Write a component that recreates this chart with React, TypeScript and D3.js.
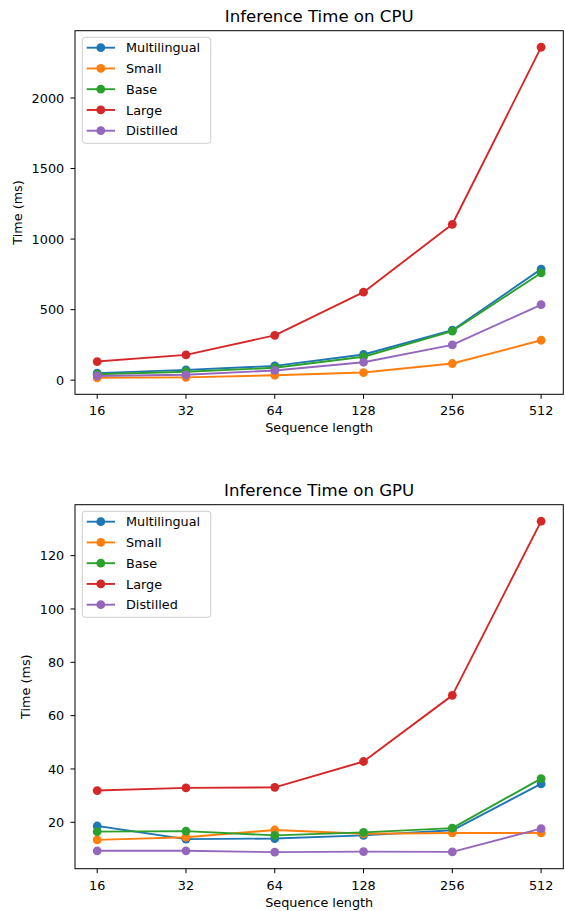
import React, { useEffect } from "react";
import * as d3 from "d3";

const seqLengths = [16, 32, 64, 128, 256, 512];
const seriesNames = ["Multilingual", "Small", "Base", "Large", "Distilled"];
const colors = ["#1f77b4", "#ff7f0e", "#2ca02c", "#d62728", "#9467bd"];

const cpuMultilingual = [50, 73, 101, 182, 354, 787];
const cpuSmall = [17, 20, 35, 54, 118, 283];
const cpuBase = [42, 60, 88, 166, 348, 760];
const cpuLarge = [132, 179, 318, 624, 1105, 2360];
const cpuDistilled = [30, 38, 69, 127, 250, 535];

const gpuMultilingual = [18.6, 13.7, 13.9, 15.1, 17.0, 34.4];
const gpuSmall = [13.4, 14.4, 17.1, 15.7, 16.0, 16.0];
const gpuBase = [16.5, 16.7, 15.1, 16.2, 17.8, 36.4];
const gpuLarge = [31.9, 32.9, 33.1, 42.8, 67.6, 132.9];
const gpuDistilled = [9.3, 9.3, 8.8, 9.0, 8.9, 17.6];

const cpuTicks = [0, 500, 1000, 1500, 2000];
const gpuTicks = [20, 40, 60, 80, 100, 120];

const FONT = "DejaVu Sans, Liberation Sans, sans-serif";
const W = 565;
const H = 911;
const LEFT = 75;
const RIGHT = 563.3;

type PanelProps = {
  title: string;
  top: number;
  bottom: number;
  series: number[][];
  ticks: number[];
  ylabelX: number;
};

function Panel({ title, top, bottom, series, ticks, ylabelX }: PanelProps) {
  const x = d3
    .scaleLog()
    .base(2)
    .domain([16 / Math.pow(2, 0.25), 512 * Math.pow(2, 0.25)])
    .range([LEFT, RIGHT]);
  const all = series.flat();
  const mn = d3.min(all) as number;
  const mx = d3.max(all) as number;
  const pad = (mx - mn) * 0.05;
  const y = d3.scaleLinear().domain([mn - pad, mx + pad]).range([bottom, top]);
  const line = d3
    .line<number>()
    .x((_, i) => x(seqLengths[i]))
    .y((d) => y(d));

  const legTop = top + 6.6;
  const legLeft = 82.3;
  const legW = 128.5;
  const legH = 106;
  const rowH = 20.75;

  return (
    <g>
      <text
        x={(LEFT + RIGHT) / 2}
        y={top - 8.5}
        textAnchor="middle"
        fontSize={16.6}
        fontFamily={FONT}
        fill="#000"
      >
        {title}
      </text>
      <rect x={LEFT} y={top} width={RIGHT - LEFT} height={bottom - top} fill="#fff" />
      {series.map((vals, si) => (
        <g key={si}>
          <path d={line(vals) as string} fill="none" stroke={colors[si]} strokeWidth={1.9} strokeLinejoin="round" strokeLinecap="square" />
          {vals.map((v, i) => (
            <circle key={i} cx={x(seqLengths[i])} cy={y(v)} r={4.4} fill={colors[si]} />
          ))}
        </g>
      ))}
      <rect
        x={LEFT}
        y={top}
        width={RIGHT - LEFT}
        height={bottom - top}
        fill="none"
        stroke="#000"
        strokeWidth={1}
      />
      {seqLengths.map((s) => (
        <g key={s}>
          <line x1={x(s)} x2={x(s)} y1={bottom} y2={bottom + 4.5} stroke="#000" strokeWidth={1} />
          <text
            x={x(s)}
            y={bottom + 20.8}
            textAnchor="middle"
            fontSize={12.8}
            fontFamily={FONT}
            fill="#000"
          >
            {s}
          </text>
        </g>
      ))}
      {ticks.map((t) => (
        <g key={t}>
          <line x1={LEFT - 4.5} x2={LEFT} y1={y(t)} y2={y(t)} stroke="#000" strokeWidth={1} />
          <text
            x={LEFT - 10.8}
            y={y(t)}
            dy="0.36em"
            textAnchor="end"
            fontSize={12.8}
            fontFamily={FONT}
            fill="#000"
          >
            {t}
          </text>
        </g>
      ))}
      <text
        x={(LEFT + RIGHT) / 2}
        y={bottom + 37.8}
        textAnchor="middle"
        fontSize={12.8}
        fontFamily={FONT}
        fill="#000"
      >
        Sequence length
      </text>
      <text
        transform={`translate(${ylabelX},${(top + bottom) / 2}) rotate(-90)`}
        textAnchor="middle"
        fontSize={12.8}
        fontFamily={FONT}
        fill="#000"
      >
        Time (ms)
      </text>
      <rect
        x={legLeft}
        y={legTop}
        width={legW}
        height={legH}
        rx={3}
        fill="#fff"
        fillOpacity={0.8}
        stroke="#cccccc"
        strokeWidth={1}
      />
      {seriesNames.map((name, i) => {
        const cy = legTop + 10.4 + i * rowH;
        return (
          <g key={name}>
            <line x1={86.7} x2={115} y1={cy} y2={cy} stroke={colors[i]} strokeWidth={1.9} />
            <circle cx={100.8} cy={cy} r={4.4} fill={colors[i]} />
            <text x={126} y={cy} dy="0.36em" fontSize={12.8} fontFamily={FONT} fill="#000">
              {name}
            </text>
          </g>
        );
      })}
    </g>
  );
}

export default function App() {
  useEffect(() => {
    document.body.style.margin = "0";
  }, []);
  return (
    <svg
      width={W}
      height={H}
      viewBox={`0 0 ${W} ${H}`}
      style={{ display: "block", position: "absolute", left: 0, top: 0, background: "#fff" }}
    >
      <rect x={0} y={0} width={W} height={H} fill="#fff" />
      <Panel
        title="Inference Time on CPU"
        top={30.7}
        bottom={394.3}
        series={[cpuMultilingual, cpuSmall, cpuBase, cpuLarge, cpuDistilled]}
        ticks={cpuTicks}
        ylabelX={21.5}
      />
      <Panel
        title="Inference Time on GPU"
        top={504.7}
        bottom={868.7}
        series={[gpuMultilingual, gpuSmall, gpuBase, gpuLarge, gpuDistilled]}
        ticks={gpuTicks}
        ylabelX={29.7}
      />
    </svg>
  );
}
